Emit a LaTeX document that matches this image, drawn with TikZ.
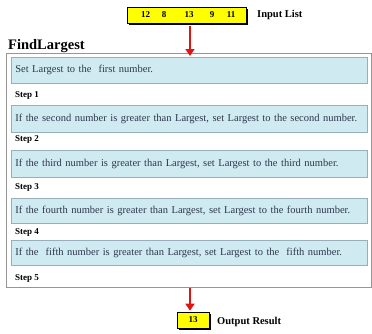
\documentclass[tikz,border=0pt]{standalone}
\usepackage{fontspec}
\setmainfont{Liberation Serif}
\usetikzlibrary{arrows.meta,shadows}

\definecolor{stepfill}{RGB}{208,234,242}
\definecolor{stepline}{RGB}{150,175,186}
\definecolor{steptext}{RGB}{45,55,75}
\definecolor{framegray}{RGB}{150,150,150}
\definecolor{listyellow}{RGB}{255,255,0}
\definecolor{arrowred}{RGB}{225,20,20}

\tikzset{
  listbox/.style={draw=black, line width=0.6pt, fill=listyellow, inner sep=0pt,
    drop shadow={shadow xshift=2pt, shadow yshift=-2pt, fill=black, opacity=1}},
  listnum/.style={font=\fontsize{9}{10}\selectfont\bfseries, inner sep=0pt},
  sidelabel/.style={font=\fontsize{10.5}{12}\selectfont\bfseries, anchor=west, inner sep=0pt},
  stepbox/.style={draw=stepline, line width=0.6pt, fill=stepfill, anchor=north west,
    text width=348pt, inner xsep=4pt, inner ysep=0pt, align=left,
    font=\fontsize{10.5}{12}\selectfont, text=steptext},
  steplabel/.style={font=\fontsize{9}{10}\selectfont\bfseries, anchor=west, inner sep=0pt},
  flowarrow/.style={draw=arrowred, line width=1.6pt, -{Triangle[width=9pt,length=7pt]}}
}

\begin{document}
\begin{tikzpicture}[x=1pt,y=-1pt]
\useasboundingbox (0,0) rectangle (372,333);

% input list
\node[listbox, minimum width=119pt, minimum height=16pt] (inbox) at (186.5,15) {};
\node[listnum] (n1) at (145.5,15) {12};
\node[listnum] (n2) at (164,15) {8};
\node[listnum] (n3) at (189,15) {13};
\node[listnum] (n4) at (212,15) {9};
\node[listnum] (n5) at (231,15) {11};
\node[sidelabel] (inlabel) at (257,15) {Input List};

% procedure frame
\node[font=\fontsize{14.5}{16}\selectfont\bfseries, anchor=base west, inner sep=0pt] (title) at (8,49) {FindLargest};
\node[draw=framegray, line width=0.7pt, anchor=north west, minimum width=365pt,
      minimum height=234pt, inner sep=0pt] (frame) at (6,53) {};

% steps
\node[stepbox, minimum height=26pt] (s1) at (11,57) {Set Largest to the\ \ first number.};
\node[steplabel] (l1) at (15,95) {Step 1};
\node[stepbox, minimum height=27pt] (s2) at (11,105) {If the second number is greater than Largest, set Largest to the second number.};
\node[steplabel] (l2) at (15,139) {Step 2};
\node[stepbox, minimum height=27pt] (s3) at (11,150) {If the third number is greater than Largest, set Largest to the third number.};
\node[steplabel] (l3) at (15,187) {Step 3};
\node[stepbox, minimum height=25pt] (s4) at (11,198) {If the fourth number is greater than Largest, set Largest to the fourth number.};
\node[steplabel] (l4) at (15,232) {Step 4};
\node[stepbox, minimum height=25pt] (s5) at (11,240) {If the\ \ fifth number is greater than Largest, set Largest to the\ \ fifth number.};
\node[steplabel] (l5) at (15,278) {Step 5};

% output
\node[listbox, minimum width=32pt, minimum height=16pt] (outbox) at (193,320) {};
\node[listnum] (on) at (193,320) {13};
\node[sidelabel] (outlabel) at (217,322) {Output Result};

% arrows
\draw[flowarrow] ([xshift=3.5pt,yshift=-3pt]inbox.south) -- ([xshift=3.5pt,yshift=-3pt]inbox.south |- frame.north);
\draw[flowarrow] ([xshift=-3pt]outbox.north |- frame.south) -- ([xshift=-3pt,yshift=1pt]outbox.north);
\end{tikzpicture}
\end{document}
